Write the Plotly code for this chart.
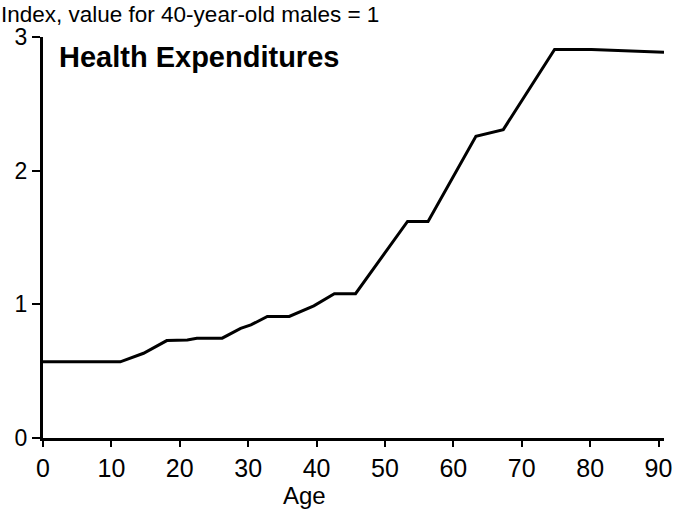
import plotly.graph_objects as go

ages = [0, 11.3, 14.7, 18.1, 21.1, 22.5, 26.2, 28.9, 30.4, 32.8, 36.0, 39.6, 42.6, 45.7,
        53.3, 56.3, 63.3, 67.3, 74.8, 80.2, 90.8]
index_vals = [0.57, 0.57, 0.634, 0.729, 0.734, 0.747, 0.747, 0.82, 0.846, 0.909, 0.909, 0.989,
              1.08, 1.08, 1.62, 1.62, 2.257, 2.307, 2.906, 2.906, 2.886]
x_ticks = [0, 10, 20, 30, 40, 50, 60, 70, 80, 90]
y_ticks = [0, 1, 2, 3]

FONT = "Liberation Sans, Arial, Helvetica, sans-serif"

L, R, T, B = 43, 21, 37, 80
W, H = 685, 518
pw = W - L - R

fig = go.Figure()
fig.add_trace(go.Scatter(x=ages, y=index_vals, mode="lines",
                         line=dict(color="black", width=3), showlegend=False))

fig.update_layout(
    width=W, height=H,
    margin=dict(l=L, r=R, t=T, b=B, autoexpand=False),
    paper_bgcolor="white", plot_bgcolor="white",
    font=dict(family=FONT, color="black", size=24),
    xaxis=dict(range=[0, 90.8], tickvals=x_ticks, showgrid=False, zeroline=False,
               automargin=False,
               showline=True, linecolor="black", linewidth=3,
               ticks="outside", ticklen=6, tickwidth=2, tickcolor="black",
               tickfont=dict(size=25)),
    yaxis=dict(range=[0, 3], tickvals=y_ticks, showgrid=False, zeroline=False,
               automargin=False,
               showline=True, linecolor="black", linewidth=3,
               ticks="outside", ticklen=8, tickwidth=2, tickcolor="black",
               tickfont=dict(size=23)),
    annotations=[
        dict(text="Index, value for 40-year-old males = 1", xref="paper", yref="paper",
             x=-L/pw, y=1, xanchor="left", yanchor="bottom", yshift=9, borderpad=0,
             showarrow=False, font=dict(size=22.5)),
        dict(text="<b>Health Expenditures</b>", xref="paper", yref="paper",
             x=14/pw, y=1, xanchor="left", yanchor="top", yshift=-2,
             showarrow=False, font=dict(size=29)),
        dict(text="Age", xref="x", yref="paper", x=38.3, y=0, xanchor="center",
             yanchor="top", yshift=-42, showarrow=False, font=dict(size=24)),
    ],
)

fig.write_html("out.html", config={"displayModeBar": False},
               post_script="document.body.style.margin='0';document.body.style.overflow='hidden';")
